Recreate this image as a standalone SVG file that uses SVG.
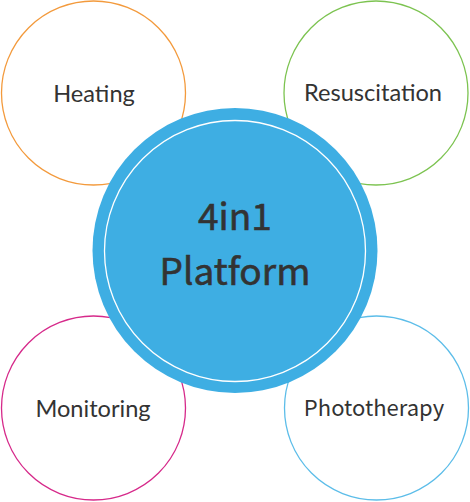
<svg xmlns="http://www.w3.org/2000/svg" width="470" height="502" viewBox="0 0 470 502">
<style>
.ring{fill:#fff;stroke-width:1.3}
.lbl{font-family:Lato,"Noto Sans",sans-serif;font-size:23.6px;fill:#333;text-anchor:middle}
.lbl2{font-family:"Noto Sans CJK KR","Noto Sans",sans-serif;font-size:22px;fill:#333;text-anchor:middle}
.ctr{font-family:"Noto Sans CJK KR","Noto Sans",sans-serif;font-size:37px;font-weight:400;fill:#333;stroke:#333;stroke-width:0.6;text-anchor:middle}
</style>
<rect width="470" height="502" fill="#fff"/>
<g id="heating"><circle class="ring" cx="93.5" cy="93" r="92" stroke="#f39a3c"/><text class="lbl" x="94" y="102">Heating</text></g>
<g id="resuscitation"><circle class="ring" cx="376" cy="93" r="92" stroke="#7cc350"/><text class="lbl" x="373" y="101">Resuscitation</text></g>
<g id="monitoring"><circle class="ring" cx="93.5" cy="408" r="92" stroke="#d6298a"/><text class="lbl" x="93" y="417">Monitoring</text></g>
<g id="phototherapy"><circle class="ring" cx="376.5" cy="408" r="92" stroke="#5cbde9"/><text class="lbl2" x="374" y="416">Phototherapy</text></g>
<g id="platform"><circle cx="235" cy="250.5" r="142.5" fill="#3eaee3"/><circle cx="235" cy="251" r="130.5" fill="none" stroke="#fff" stroke-width="1.3"/><text class="ctr" x="235" y="230">4in1</text><text class="ctr" x="235" y="285">Platform</text></g>
<g id="connectors"/>
</svg>
